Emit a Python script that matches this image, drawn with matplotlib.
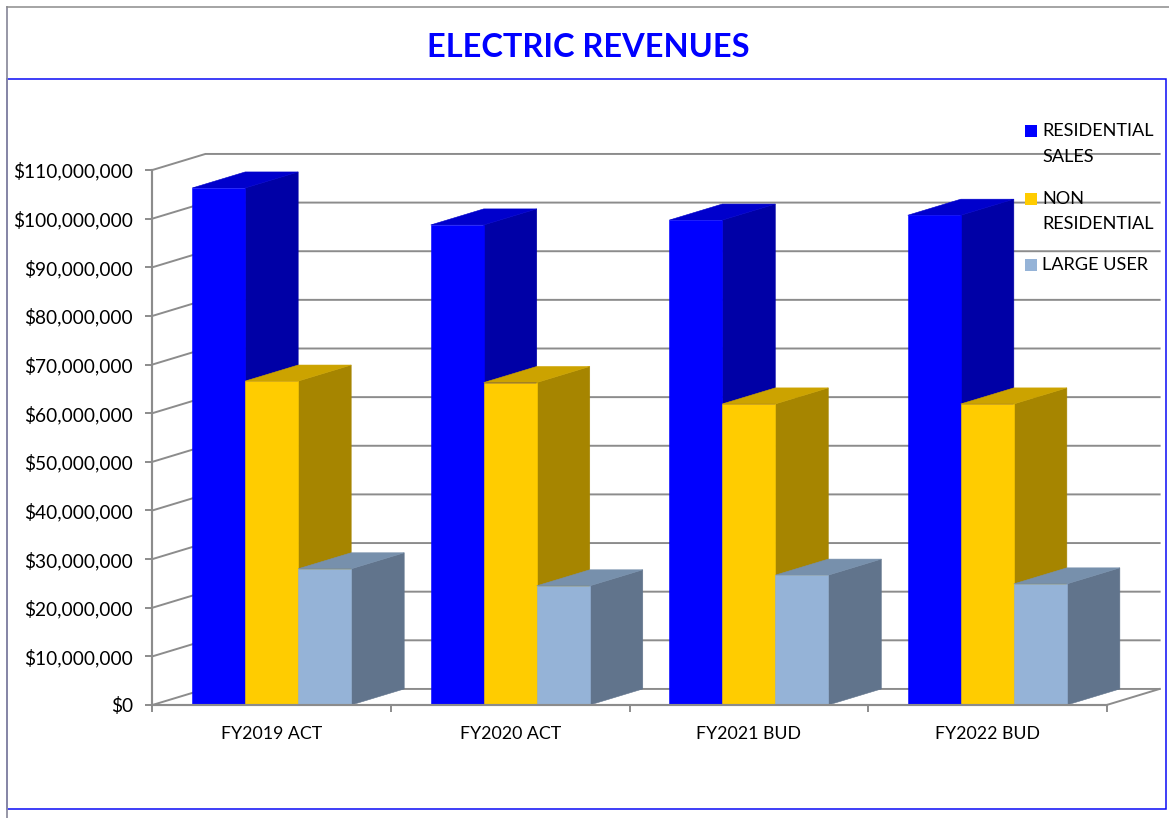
import matplotlib
matplotlib.use("Agg")
import matplotlib.pyplot as plt
from matplotlib.lines import Line2D
from matplotlib.patches import Polygon, Rectangle
from matplotlib.ticker import FuncFormatter

categories = ["FY2019 ACT", "FY2020 ACT", "FY2021 BUD", "FY2022 BUD"]
residential = [106.3e6, 98.7e6, 99.7e6, 100.7e6]
non_residential = [66.6e6, 66.3e6, 61.9e6, 61.9e6]
large_user = [28.0e6, 24.5e6, 26.7e6, 24.9e6]
series_labels = ["RESIDENTIAL\nSALES", "NON\nRESIDENTIAL", "LARGE USER"]
y_ticks = list(range(0, 110_000_001, 10_000_000))

W, H = 1169, 818
plt.rcParams["font.family"] = ["Lato", "DejaVu Sans"]
fig = plt.figure(figsize=(W / 100, H / 100), dpi=100, facecolor="white")
ax = fig.add_axes([152.4 / W, (H - 705) / H, (1106.6 - 152.4) / W, (705 - 170) / H])
ax.set_xlim(-0.5, 3.5)
ax.set_ylim(0, 110e6)
ax.patch.set_visible(False)

GRID = "#8C8C8C"
LW = 1.4
BAR_W = 1 / 4.5
DX = BAR_W
DY = 3.3e6
x0, x1 = ax.get_xlim()

# back wall gridlines and floor
for v in y_ticks:
    ax.plot([x0, x0 + DX, x1 + DX], [v, v + DY, v + DY], color=GRID, lw=LW,
            clip_on=False, zorder=1, solid_joinstyle="miter")
ax.plot([x1, x1 + DX], [0, DY], color=GRID, lw=LW, clip_on=False, zorder=1)

styles = [
    ("#0000FF", "#0000CC", "#0000A6"),
    ("#FFCC00", "#CCA300", "#A68500"),
    ("#95B3D7", "#7790AC", "#61748C"),
]
all_series = [residential, non_residential, large_user]

z = 2
for i in range(len(categories)):
    for s, vals in enumerate(all_series):
        front, top, side = styles[s]
        xl = i + (s - 1.5) * BAR_W
        xr = xl + BAR_W
        v = vals[i]
        ax.add_patch(Polygon([(xr, 0), (xr + DX, DY), (xr + DX, v + DY), (xr, v)],
                             fc=side, ec=side, lw=0.4, clip_on=False, zorder=z))
        ax.add_patch(Polygon([(xl, v), (xr, v), (xr + DX, v + DY), (xl + DX, v + DY)],
                             fc=top, ec=top, lw=0.4, clip_on=False, zorder=z))
        ax.add_patch(Rectangle((xl, 0), BAR_W, v, fc=front, ec=front, lw=0.4,
                               clip_on=False, zorder=z + 0.5))
        z += 1

for name in ("top", "right"):
    ax.spines[name].set_visible(False)
for name in ("left", "bottom"):
    ax.spines[name].set_color(GRID)
    ax.spines[name].set_linewidth(LW * 1.1)
    ax.spines[name].set_zorder(60)

ax.set_yticks(y_ticks)
ax.yaxis.set_major_formatter(FuncFormatter(lambda v, _: f"${v:,.0f}"))
ax.set_xticks(range(len(categories)))
ax.set_xticklabels(categories)
ax.set_xticks([x0 + k for k in range(len(categories) + 1)], minor=True)
ax.tick_params(axis="y", length=5, width=LW, color=GRID, pad=9, labelsize=13.8, labelcolor="black")
ax.tick_params(axis="x", which="major", length=0, pad=15, labelsize=12.8, labelcolor="black")
ax.tick_params(axis="x", which="minor", length=5, width=LW, color=GRID)

# title
fig.text(588.5 / W, 1 - 47.5 / H, "ELECTRIC REVENUES", color="#0000FF", fontsize=23.4,
         fontweight="bold", ha="center", va="center")

# frame
def fig_line(xs, ys, color, lw):
    fig.add_artist(Line2D([x / W for x in xs], [1 - y / H for y in ys], color=color, lw=lw,
                          zorder=100, solid_joinstyle="miter"))

fig_line([7, 1165.5, 1165.5, 7, 7], [79, 79, 808.5, 808.5, 79], "#0A0AF5", 1.1)
fig_line([6.5, 6.5], [818, 7], "#8F8F9F", 1.3)
fig_line([6.5, W], [7, 7], "#8C8C8C", 1.1)

# legend
leg_y = [131, 198.5, 264.5]
for lab, y, st in zip(series_labels, leg_y, styles):
    fig.add_artist(Rectangle((1025 / W, 1 - (y + 6) / H), 12 / W, 12 / H, fc=st[0], ec="none",
                             transform=fig.transFigure, zorder=90))
    for n, part in enumerate(lab.split("\n")):
        fig.text(1042 / W, 1 - (y + n * 25.5) / H, part, fontsize=13.1, color="black",
                 ha="left", va="center", zorder=95)

fig.savefig("out.png", dpi=100)
